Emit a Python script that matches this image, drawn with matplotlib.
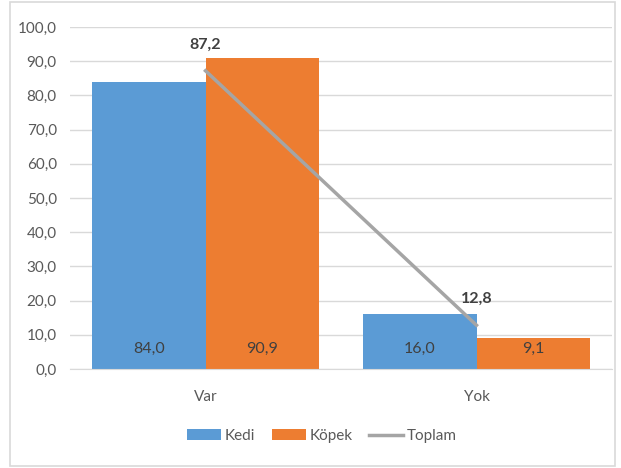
import numpy as np
import matplotlib.pyplot as plt
from matplotlib.patches import Rectangle

# Data
categories = ['Var', 'Yok']
kedi = [84.0, 16.0]
kopek = [90.9, 9.1]
toplam = [87.2, 12.8]

plt.rcParams['font.family'] = ['Lato', 'DejaVu Sans']

fig = plt.figure(figsize=(6.21, 4.68), dpi=100)
ax = fig.add_axes([70 / 621, 1 - 369 / 468, 542 / 621, 342 / 468])

x = np.arange(len(categories))
w = 0.417
blue = '#5b9bd5'
orange = '#ed7d31'
gray = '#a5a5a5'
txt = '#595959'

b1 = ax.bar(x - w / 2, kedi, w, color=blue, label='Kedi', zorder=2)
b2 = ax.bar(x + w / 2, kopek, w, color=orange, label='Köpek', zorder=2)
l1, = ax.plot(x, toplam, color=gray, lw=2.5, label='Toplam', zorder=3)

def fmt(v):
    return f'{v:.1f}'.replace('.', ',')

for i in range(len(categories)):
    ax.text(x[i] - w / 2, 5.8, fmt(kedi[i]), ha='center', va='center',
            fontsize=11.5, color='#404040', zorder=4)
    ax.text(x[i] + w / 2, 5.8, fmt(kopek[i]), ha='center', va='center',
            fontsize=11.5, color='#404040', zorder=4)
    ax.annotate(fmt(toplam[i]), (x[i], toplam[i]), xytext=(0, 19),
                textcoords='offset points', ha='center', va='center', fontsize=11.5,
                fontweight='bold', color='#404040', zorder=4)

ax.set_xlim(-0.5, 1.5)
ax.set_ylim(0, 100)
ticks = np.arange(0, 101, 10)
ax.set_yticks(ticks)
ax.set_yticklabels([fmt(v) for v in ticks])
ax.set_xticks(x)
ax.set_xticklabels(categories)
ax.tick_params(length=0, labelsize=11, colors=txt)
ax.tick_params(axis='x', pad=15)
ax.tick_params(axis='y', pad=9.5)
ax.grid(axis='y', color='#d9d9d9', lw=1, zorder=0)
for s in ['top', 'right', 'left']:
    ax.spines[s].set_visible(False)
ax.spines['bottom'].set_color('#d9d9d9')

leg = fig.legend([b1, b2, l1], ['Kedi', 'Köpek', 'Toplam'], loc='center',
                 bbox_to_anchor=(322 / 621, 1 - 436 / 468), ncol=3, frameon=False,
                 fontsize=11, handlelength=2.2, handleheight=0.75, handletextpad=0.25,
                 columnspacing=1.1)
for t in leg.get_texts():
    t.set_color(txt)

fig.patches.append(Rectangle((10 / 621, 2 / 468), 605 / 621, 464 / 468, transform=fig.transFigure,
                             fill=False, edgecolor='#d9d9d9', lw=1.2))

fig.savefig('out.png', dpi=100)
